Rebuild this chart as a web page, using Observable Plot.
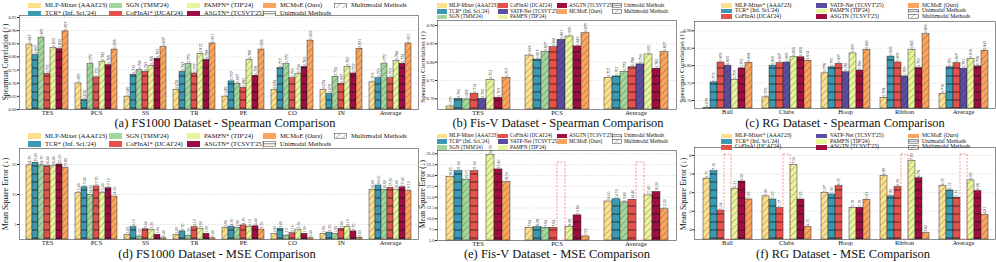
<!DOCTYPE html>
<html><head><meta charset="utf-8">
<script src="https://cdn.jsdelivr.net/npm/d3@7"></script>
<script src="https://cdn.jsdelivr.net/npm/@observablehq/plot@0.6"></script>
<style>
body{margin:0;background:#fff}
#root{position:relative;width:996px;height:262px;overflow:hidden;background:#fff;font-family:'Liberation Serif','DejaVu Serif',serif;color:#111}
#root svg{position:absolute}
.leg{position:absolute;display:flex;align-items:center;white-space:nowrap;line-height:1}
.ttl{position:absolute;white-space:nowrap;transform:translate(-50%,-50%);font-size:12.5px;line-height:1}
.ylab{position:absolute;white-space:nowrap;transform:translate(-50%,-50%) rotate(-90deg);line-height:1}
</style></head><body>
<svg width="0" height="0" style="position:absolute">
<defs>
<pattern id="hd" patternUnits="userSpaceOnUse" width="4.6" height="4.6" patternTransform="rotate(45)"><line x1="0" y1="0" x2="0" y2="4.6" stroke="#222" stroke-width="0.5"/></pattern>
<pattern id="hh" patternUnits="userSpaceOnUse" width="4" height="8"><line x1="0" y1="4" x2="4" y2="4" stroke="#111" stroke-width="0.7"/></pattern>
</defs></svg>
<div id="root"></div>
<script>
// ---------------- DATA ----------------
const colorDomain = ["MLP-Mixer","TCR","SGN","CoFInAl","VATP-Net","PAMFN","ASGTN","MCMoE"];
const colorRange  = ["#fde08d","#3b9ab2","#a3d69c","#e5524b","#5b4da0","#e8f59c","#a00e41","#fba45e"];

// FS1000
const fs1000Groups = ["TES","PCS","SS","TR","PE","CO","IN","Average"];
const fs1000Methods = ["MLP-Mixer","TCR","SGN","CoFInAl","PAMFN","ASGTN","MCMoE"];
const fs1000Multimodal = [true,false,true,false,true,false,true];
const fs1000Legend = ["MLP-Mixer (AAAI'23)","TCR* (Inf. Sci.'24)","SGN (TMM'24)","CoFInAl* (IJCAI'24)","PAMFN* (TIP'24)","ASGTN* (TCSVT'25)","MCMoE (Ours)"];
const fs1000Spearman = [
  [0.847,0.807,0.871,0.735,0.833,0.830,0.897],
  [0.699,0.636,0.772,0.722,0.782,0.769,0.828],
  [0.649,0.732,0.749,0.743,0.766,0.793,0.837],
  [0.674,0.743,0.772,0.737,0.812,0.788,0.851],
  [0.649,0.707,0.697,0.682,0.789,0.728,0.828],
  [0.674,0.757,0.772,0.719,0.734,0.762,0.862],
  [0.674,0.659,0.724,0.697,0.762,0.737,0.831],
  [0.703,0.719,0.772,0.719,0.784,0.774,0.851]
];
const fs1000MSE = [
  [24.70,25.60,24.70,24.40,24.40,25.00,23.80],
  [15.40,17.40,14.90,17.70,15.40,17.10,14.30],
  [1.60,4.10,1.00,3.40,3.20,1.60,0.40],
  [1.60,2.70,1.20,4.10,3.60,1.90,0.40],
  [3.90,4.30,3.90,4.70,4.10,4.40,3.30],
  [1.90,3.60,1.10,2.10,3.30,1.90,0.40],
  [1.90,2.30,1.90,3.60,4.10,2.70,0.60],
  [16.60,18.00,16.60,17.20,16.60,17.40,16.10]
];
const fs1000SpearmanTicks = [0.60,0.65,0.70,0.75,0.80,0.85,0.90,0.95];
const fs1000MSETicks = [5,15,25];

// Fis-V
const fisvGroups = ["TES","PCS","Average"];
const fisvMethods = ["MLP-Mixer","TCR","SGN","CoFInAl","VATP-Net","PAMFN","ASGTN","MCMoE"];
const fisvMultimodal = [true,false,true,false,true,true,false,true];
const fisvLegend = ["MLP-Mixer (AAAI'23)","TCR* (Inf. Sci.'24)","SGN (TMM'24)","CoFInAl (IJCAI'24)","VATP-Net (TCSVT'25)","PAMFN (TIP'24)","ASGTN (TCSVT'25)","MCMoE (Ours)"];
const fisvSpearman = [
  [0.679,0.700,0.698,0.714,0.700,0.752,0.703,0.757],
  [0.818,0.807,0.827,0.841,0.861,0.870,0.843,0.879],
  [0.757,0.761,0.773,0.786,0.794,0.821,0.782,0.827]
];
const fisvMSE = [
  [19.65,21.00,19.05,21.00,null,24.70,21.40,18.50],
  [7.94,8.08,7.94,7.94,null,8.08,10.80,5.93],
  [14.00,14.50,13.80,14.40,null,15.40,16.20,12.20]
];
const fisvMSEFlagged = ["PCS","Average"];
const fisvSpearmanTicks = [0.70,0.75,0.80,0.85,0.90];
const fisvMSETicks = [5,7.5,10,12.5,15,17.5,20,22.5,25];

// RG
const rgGroups = ["Ball","Clubs","Hoop","Ribbon","Average"];
const rgMethods = ["MLP-Mixer","TCR","CoFInAl","VATP-Net","PAMFN","ASGTN","MCMoE"];
const rgMultimodal = [true,false,false,true,true,false,true];
const rgLegend = ["MLP-Mixer* (AAAI'23)","TCR* (Inf. Sci.'24)","CoFInAl (IJCAI'24)","VATP-Net (TCSVT'25)","PAMFN (TIP'24)","ASGTN (TCSVT'25)","MCMoE (Ours)"];
const rgSpearman = [
  [0.679,0.752,0.809,0.800,0.759,0.792,0.808],
  [0.709,0.800,0.807,0.809,0.824,0.824,0.814],
  [0.778,0.795,0.805,0.781,0.835,0.786,0.845],
  [0.708,0.826,0.809,0.769,0.845,0.793,0.890],
  [0.719,0.795,0.807,0.791,0.819,0.798,0.843]
];
const rgMSE = [
  [6.75,7.16,5.04,null,6.21,6.60,5.63],
  [5.80,5.63,5.17,null,7.50,5.63,4.15],
  [5.97,5.90,6.35,null,5.19,5.19,5.62],
  [6.89,5.80,6.30,null,7.69,6.78,3.82],
  [6.35,6.12,5.73,null,6.66,6.08,4.81]
];
const rgMSEFlagged = ["Ball","Clubs","Ribbon","Average"];
const rgSpearmanTicks = [0.70,0.75,0.80,0.85,0.90];
const rgMSETicks = [4,5,6,7,8];

const titles = ["(a) FS1000 Dataset - Spearman Comparison","(b) Fis-V Dataset - Spearman Comparison","(c) RG Dataset - Spearman Comparison",
                "(d) FS1000 Dataset - MSE Comparison","(e) Fis-V Dataset - MSE Comparison","(f) RG Dataset - MSE Comparison"];
const yLabelSp = "Spearman Correlation (↑)";
const yLabelMse = "Mean Square Error (↓)";

// ---------------- DRAW ----------------
const serif = "'Liberation Serif','DejaVu Serif',serif";
const root = document.getElementById("root");

function drawPanel(p) {
  const rows = [];
  p.groups.forEach((g, gi) => p.methods.forEach((m, mi) => {
    const v = p.values[gi][mi];
    rows.push({group: g, method: m, value: v, multi: p.multi[mi], flag: v == null && (p.flagged || []).includes(g)});
  }));
  const y0 = p.domain[0];
  const common = {width: p.w, height: p.h, marginTop: p.m[0], marginRight: p.m[1], marginBottom: p.m[2], marginLeft: p.m[3]};
  const bg = Plot.plot({...common,
    style: {background: "none", fontSize: "4.6px", fontFamily: serif, color: "#222"},
    y: {domain: p.domain, ticks: p.ticks, tickFormat: p.tickFormat, tickSize: 2, tickPadding: 1, label: null},
    marks: [
      Plot.ruleY(p.ticks, {stroke: "#c4c4c4", strokeWidth: 0.5, strokeDasharray: "1.5,1.5"}),
      Plot.frame({stroke: "#444", strokeWidth: 0.6})
    ]});
  const has = d => d.value != null;
  const fg = Plot.plot({...common,
    style: {background: "none", fontSize: "6.5px", fontFamily: serif, color: "#111"},
    facet: {data: rows, x: "group"},
    fx: {domain: p.groups, paddingInner: p.pi, paddingOuter: p.po, label: null, tickSize: 0, tickPadding: 1, axis: "bottom"},
    x: {domain: p.methods, padding: 0, axis: null},
    y: {domain: p.domain, axis: null},
    color: {domain: colorDomain, range: colorRange},
    marks: [
      Plot.barY(rows, {filter: has, x: "method", y1: () => y0, y2: "value", fill: "method", stroke: "#222", strokeWidth: 0.45}),
      Plot.barY(rows, {filter: d => has(d) && d.multi, x: "method", y1: () => y0, y2: "value", fill: "url(#hd)"}),
      Plot.barY(rows, {filter: d => has(d) && !d.multi, x: "method", y1: () => y0, y2: "value", fill: "url(#hh)"}),
      Plot.barY(rows, {filter: d => d.flag, x: "method", y1: () => y0, y2: () => p.flagTop, fill: "none", stroke: "#f05050", strokeWidth: 0.6, strokeDasharray: "2,1.5"}),
      Plot.text(rows, {filter: has, x: "method", y: "value", text: d => p.fmt(d.value), rotate: -90, textAnchor: "start", dy: -1, fontSize: 4, fill: "#333"})
    ]});
  for (const s of [bg, fg]) { s.style.left = p.left + "px"; s.style.top = p.top + "px"; root.appendChild(s); }

  const t = document.createElement("div");
  t.className = "ttl"; t.textContent = p.title;
  t.style.left = p.titleXY[0] + "px"; t.style.top = p.titleXY[1] + "px";
  root.appendChild(t);

  const yl = document.createElement("div");
  yl.className = "ylab"; yl.textContent = p.ylabel;
  yl.style.left = p.ylabelXY[0] + "px"; yl.style.top = p.ylabelXY[1] + "px"; yl.style.fontSize = p.ylabelFs + "px";
  root.appendChild(yl);

  drawLegend(p);
}

function drawLegend(p) {
  const L = p.legend;
  const entries = p.legendLabels.map((l, i) => ({label: l, method: p.methods[i]}));
  entries.push({label: "Unimodal Methods", kind: "uni"}, {label: "Multimodal Methods", kind: "multi"});
  const n = entries.length, base = Math.floor(n / L.ncol), large = n % L.ncol;
  let idx = 0;
  for (let c = 0; c < L.ncol; c++) {
    const cnt = base + (c < large ? 1 : 0);
    for (let r = 0; r < cnt; r++) {
      const e = entries[idx++];
      const item = document.createElement("div");
      item.className = "leg";
      item.style.left = L.colX[c] + "px";
      item.style.top = (L.rowY[r] - L.fs / 2) + "px";
      item.style.height = L.fs + "px";
      item.style.fontSize = L.fs + "px";
      let sw;
      if (e.kind) {
        sw = document.createElementNS("http://www.w3.org/2000/svg", "svg");
        sw.setAttribute("width", L.sw); sw.setAttribute("height", L.sh);
        sw.style.position = "static";
        sw.innerHTML = e.kind === "multi"
          ? `<rect x="0.3" y="0.3" width="${L.sw - 0.6}" height="${L.sh - 0.6}" fill="url(#hd)" stroke="#333" stroke-width="0.5"/>`
          : `<rect x="0.3" y="0.3" width="${L.sw - 0.6}" height="${L.sh - 0.6}" fill="#fff" stroke="#333" stroke-width="0.5"/><line x1="0" x2="${L.sw}" y1="${L.sh / 2}" y2="${L.sh / 2}" stroke="#333" stroke-width="0.6"/>`;
      } else {
        sw = document.createElement("span");
        sw.style.display = "inline-block";
        sw.style.width = L.sw + "px"; sw.style.height = L.sh + "px";
        sw.style.background = colorRange[colorDomain.indexOf(e.method)];
      }
      sw.style.marginRight = L.gap + "px";
      sw.style.flex = "none";
      item.appendChild(sw);
      const tx = document.createElement("span");
      tx.textContent = e.label;
      item.appendChild(tx);
      root.appendChild(item);
    }
  }
}

const f2 = d3.format(".2f"), f3 = d3.format(".3f"), f1 = d3.format(".1f"), fd = d3.format("d");
const legA = {ncol: 5, colX: [28, 109, 187, 263, 334], fs: 6.6, sw: 13, sh: 5.5, gap: 4};
const legB = {ncol: 4, colX: [437, 498, 557, 612], fs: 5.2, sw: 10, sh: 4.5, gap: 2};
const legC = {ncol: 3, colX: [721, 816, 908], fs: 5.7, sw: 11, sh: 4.5, gap: 3};

drawPanel({groups: fs1000Groups, methods: fs1000Methods, values: fs1000Spearman, multi: fs1000Multimodal,
  domain: [0.60, 0.9575], ticks: fs1000SpearmanTicks, tickFormat: f2, fmt: f3,
  left: 0, top: 0, w: 420, h: 122, m: [15, 2, 13, 19], pi: 0.03, po: 0.037,
  title: titles[0], titleXY: [225, 123], ylabel: yLabelSp, ylabelXY: [6, 62], ylabelFs: 7.5,
  legendLabels: fs1000Legend, legend: {...legA, rowY: [5.7, 13.5]}});

drawPanel({groups: fisvGroups, methods: fisvMethods, values: fisvSpearman, multi: fisvMultimodal,
  domain: [0.6708, 0.9137], ticks: fisvSpearmanTicks, tickFormat: f2, fmt: f3,
  left: 400, top: 0, w: 280, h: 122, m: [20, 4, 13, 37], pi: 0.175, po: 0.09,
  title: titles[1], titleXY: [558, 123], ylabel: yLabelSp, ylabelXY: [423, 67], ylabelFs: 7,
  legendLabels: fisvLegend, legend: {...legB, rowY: [5.7, 11.3, 17]}});

drawPanel({groups: rgGroups, methods: rgMethods, values: rgSpearman, multi: rgMultimodal,
  domain: [0.6771, 0.9266], ticks: rgSpearmanTicks, tickFormat: f2, fmt: f3,
  left: 660, top: 0, w: 336, h: 122, m: [21, 1, 14, 34], pi: 0.16, po: 0.1,
  title: titles[2], titleXY: [845, 123], ylabel: yLabelSp, ylabelXY: [682, 67], ylabelFs: 7,
  legendLabels: rgLegend, legend: {...legC, rowY: [5.7, 11, 16.7]}});

drawPanel({groups: fs1000Groups, methods: fs1000Methods, values: fs1000MSE, multi: fs1000Multimodal,
  domain: [0, 30.33], ticks: fs1000MSETicks, tickFormat: fd, fmt: f2,
  left: 0, top: 130, w: 420, h: 122, m: [18, 2, 13, 19], pi: 0.03, po: 0.037,
  title: titles[3], titleXY: [217, 253.5], ylabel: yLabelMse, ylabelXY: [6, 194], ylabelFs: 8,
  legendLabels: fs1000Legend, legend: {...legA, rowY: [136, 144]}});

drawPanel({groups: fisvGroups, methods: fisvMethods, values: fisvMSE, multi: fisvMultimodal,
  domain: [5, 25.76], ticks: fisvMSETicks, tickFormat: f1, fmt: f2, flagged: fisvMSEFlagged, flagTop: 23.0,
  left: 400, top: 130, w: 280, h: 122, m: [20, 4, 12, 37], pi: 0.175, po: 0.09,
  title: titles[4], titleXY: [557, 253.5], ylabel: yLabelMse, ylabelXY: [423, 194], ylabelFs: 7.5,
  legendLabels: fisvLegend, legend: {...legB, rowY: [136, 141.7, 147.3]}});

drawPanel({groups: rgGroups, methods: rgMethods, values: rgMSE, multi: rgMultimodal,
  domain: [3.48, 8.43], ticks: rgMSETicks, tickFormat: fd, fmt: f2, flagged: rgMSEFlagged, flagTop: 8.05,
  left: 660, top: 130, w: 336, h: 122, m: [17, 1, 13, 34], pi: 0.16, po: 0.1,
  title: titles[5], titleXY: [843, 253.5], ylabel: yLabelMse, ylabelXY: [684, 194], ylabelFs: 8,
  legendLabels: rgLegend, legend: {...legC, rowY: [136, 141.7, 147.3]}});
</script>
</body></html>
